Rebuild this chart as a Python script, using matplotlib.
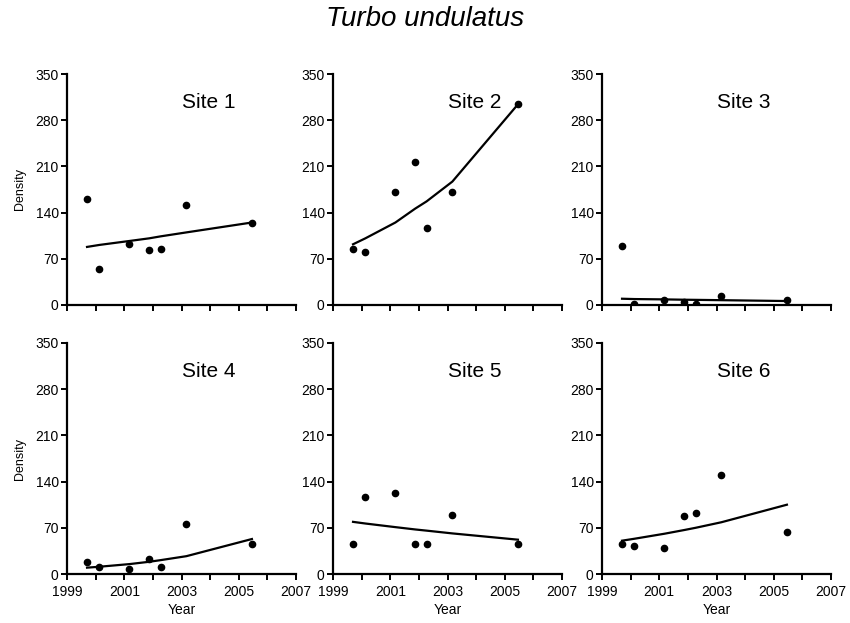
import numpy as np
from matplotlib import pyplot as plt
from matplotlib.ticker import MultipleLocator

plt.rcParams['font.family'] = ['Liberation Sans', 'DejaVu Sans']

years = [1999.70, 2000.13, 2001.18, 2001.87, 2002.27, 2003.17, 2005.46]
sites = ["Site 1", "Site 2", "Site 3", "Site 4", "Site 5", "Site 6"]

density = [
    [161, 54, 93, 83, 85, 152, 124],
    [85, 80, 171, 216, 116, 171, 304],
    [90, 1, 8, 4, 2, 14, 8],
    [18, 10, 8, 22, 10, 76, 45],
    [45, 116, 122, 45, 45, 90, 46],
    [45, 43, 40, 88, 92, 150, 64],
]

# fitted curve values at each sampling year
fitted = [
    [88, 91, 97, 101, 104, 110, 125],
    [92, 101, 125, 146, 157, 187, 304],
    [9.5, 9, 8.5, 8, 7.8, 7.3, 6],
    [9.6, 11, 15, 18.5, 21, 27, 53],
    [79, 76.5, 71, 67.5, 65.7, 61.5, 52],
    [50.5, 53.4, 61, 66.6, 70, 78.4, 105],
]

fig = plt.figure(figsize=(8.5, 6.23), dpi=100)

lefts = [67 / 850, 333 / 850, 602 / 850]
bottoms = [1 - 305 / 623, 1 - 574 / 623]
w = 229 / 850
h = 231 / 623

for i in range(6):
    r, c = divmod(i, 3)
    ax = fig.add_axes([lefts[c], bottoms[r], w, h])
    ax.plot(years, fitted[i], color='black', lw=1.6)
    ax.plot(years, density[i], 'o', color='black', ms=4.5)
    ax.set_xlim(1999, 2007)
    ax.set_ylim(0, 350)
    ax.set_yticks(np.arange(0, 351, 70))
    ax.set_xticks([1999, 2001, 2003, 2005, 2007])
    ax.xaxis.set_minor_locator(MultipleLocator(1))
    for s in ['top', 'right']:
        ax.spines[s].set_visible(False)
    for s in ['left', 'bottom']:
        ax.spines[s].set_linewidth(1.6)
    ax.tick_params(which='both', direction='out', length=4.5, width=1.4, labelsize=10)
    ax.tick_params(axis='y', pad=1.5)
    ax.tick_params(axis='x', pad=3.5)
    if r == 0:
        ax.set_xticklabels([])
    else:
        ax.set_xlabel("Year", fontsize=10, labelpad=3)
    if c == 0:
        ax.set_ylabel("Density", fontsize=9, labelpad=7)
    ax.text(0.62, 0.875, sites[i], transform=ax.transAxes, ha='center', va='center', fontsize=15)

fig.text(0.5, 0.969, "Turbo undulatus", ha='center', va='center', fontsize=20, style='italic')

fig.savefig("out.png", dpi=100)
